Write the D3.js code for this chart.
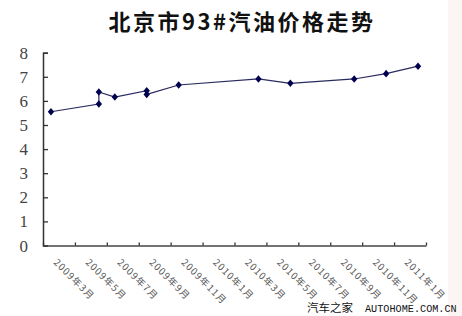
<!DOCTYPE html>
<html><head><meta charset="utf-8">
<script src="https://cdn.jsdelivr.net/npm/d3@7"></script>
<style>body{margin:0;background:#fff}svg{display:block}</style>
</head><body>
<svg id="c" width="462" height="316"></svg>
<script>
const title = "北京市93#汽油价格走势";
const axisMonths = ["2009-03","2009-04","2009-05","2009-06","2009-07","2009-08","2009-09","2009-10","2009-11","2009-12","2010-01","2010-02","2010-03","2010-04","2010-05","2010-06","2010-07","2010-08","2010-09","2010-10","2010-11","2010-12","2011-01","2011-02"];
const tickLabels = ["2009年3月","2009年5月","2009年7月","2009年9月","2009年11月","2010年1月","2010年3月","2010年5月","2010年7月","2010年9月","2010年11月","2011年1月"];
const pointMonths = ["2009-03","2009-06","2009-06","2009-07","2009-09","2009-09","2009-11","2010-04","2010-06","2010-10","2010-12","2011-02"];
const prices = [5.55,5.87,6.37,6.16,6.42,6.27,6.66,6.91,6.73,6.91,7.13,7.44];
const yTicks = [0,1,2,3,4,5,6,7,8];
const watermarkCn = "汽车之家";
const watermarkEn = "AUTOHOME.COM.CN";

const svg = d3.select("#c");
svg.append("rect").attr("x",448).attr("y",0).attr("width",14).attr("height",316).attr("fill","#fdf5f3");

const x = d3.scaleLinear().domain([0, axisMonths.length]).range([43, 426]);
const y = d3.scaleLinear().domain([0, 8]).range([245.5, 52.7]);
const idx = m => axisMonths.indexOf(m) + 0.5;

svg.append("text").attr("x",242).attr("y",30).attr("text-anchor","middle")
  .attr("font-family","'Noto Sans CJK SC'").attr("font-weight","bold").attr("font-size",22)
  .attr("letter-spacing",2.5).attr("fill","#111").text(title);

// Y axis
const gy = svg.append("g").attr("transform","translate(43,0)")
  .call(d3.axisRight(y).tickValues(yTicks).tickSize(5).tickFormat(""));
gy.select(".domain").attr("stroke","#333").attr("stroke-width",1.5);
gy.selectAll(".tick line").attr("stroke","#333").attr("stroke-width",1.3);
svg.append("g").selectAll("text").data(yTicks).join("text")
  .attr("x",28).attr("y",d=>y(d)+6).attr("text-anchor","end")
  .attr("font-family","'Liberation Serif'").attr("font-size",17).attr("fill","#444")
  .text(d=>d);

// X axis
const xt = d3.range(0, axisMonths.length + 1, 2);
const gx = svg.append("g").attr("transform","translate(0,245.5)")
  .call(d3.axisTop(x).tickValues(xt).tickSize(3).tickSizeOuter(0).tickFormat(""));
gx.select(".domain").attr("stroke","#444").attr("stroke-width",1.6);
gx.selectAll(".tick line").attr("stroke","#333").attr("stroke-width",1.3);
svg.append("g").selectAll("text").data(tickLabels).join("text")
  .attr("transform",(d,i)=>`translate(${x(i*2)+10},263) rotate(45)`)
  .attr("font-family","'Noto Sans CJK SC'").attr("font-size",9.5).attr("fill","#555")
  .attr("letter-spacing",1.1)
  .text(d=>d);

// Line
const pts = prices.map((v,i)=>[x(idx(pointMonths[i])), y(v)]);
svg.append("path").datum(pts).attr("d", d3.line()).attr("fill","none")
  .attr("stroke","#2a2a60").attr("stroke-width",1.2);
svg.append("g").selectAll("path").data(pts).join("path")
  .attr("transform",d=>`translate(${d[0]},${d[1]})`)
  .attr("d","M0,-3.8L3.2,0L0,3.8L-3.2,0Z").attr("fill","#000050");

svg.append("text").attr("x",307).attr("y",312)
  .attr("font-family","'Noto Sans CJK SC'").attr("font-size",11.5).attr("fill","#111")
  .text(watermarkCn);
svg.append("text").attr("x",365).attr("y",312)
  .attr("font-family","'Liberation Mono'").attr("font-size",10.2).attr("fill","#111")
  .text(watermarkEn);
</script>
</body></html>
